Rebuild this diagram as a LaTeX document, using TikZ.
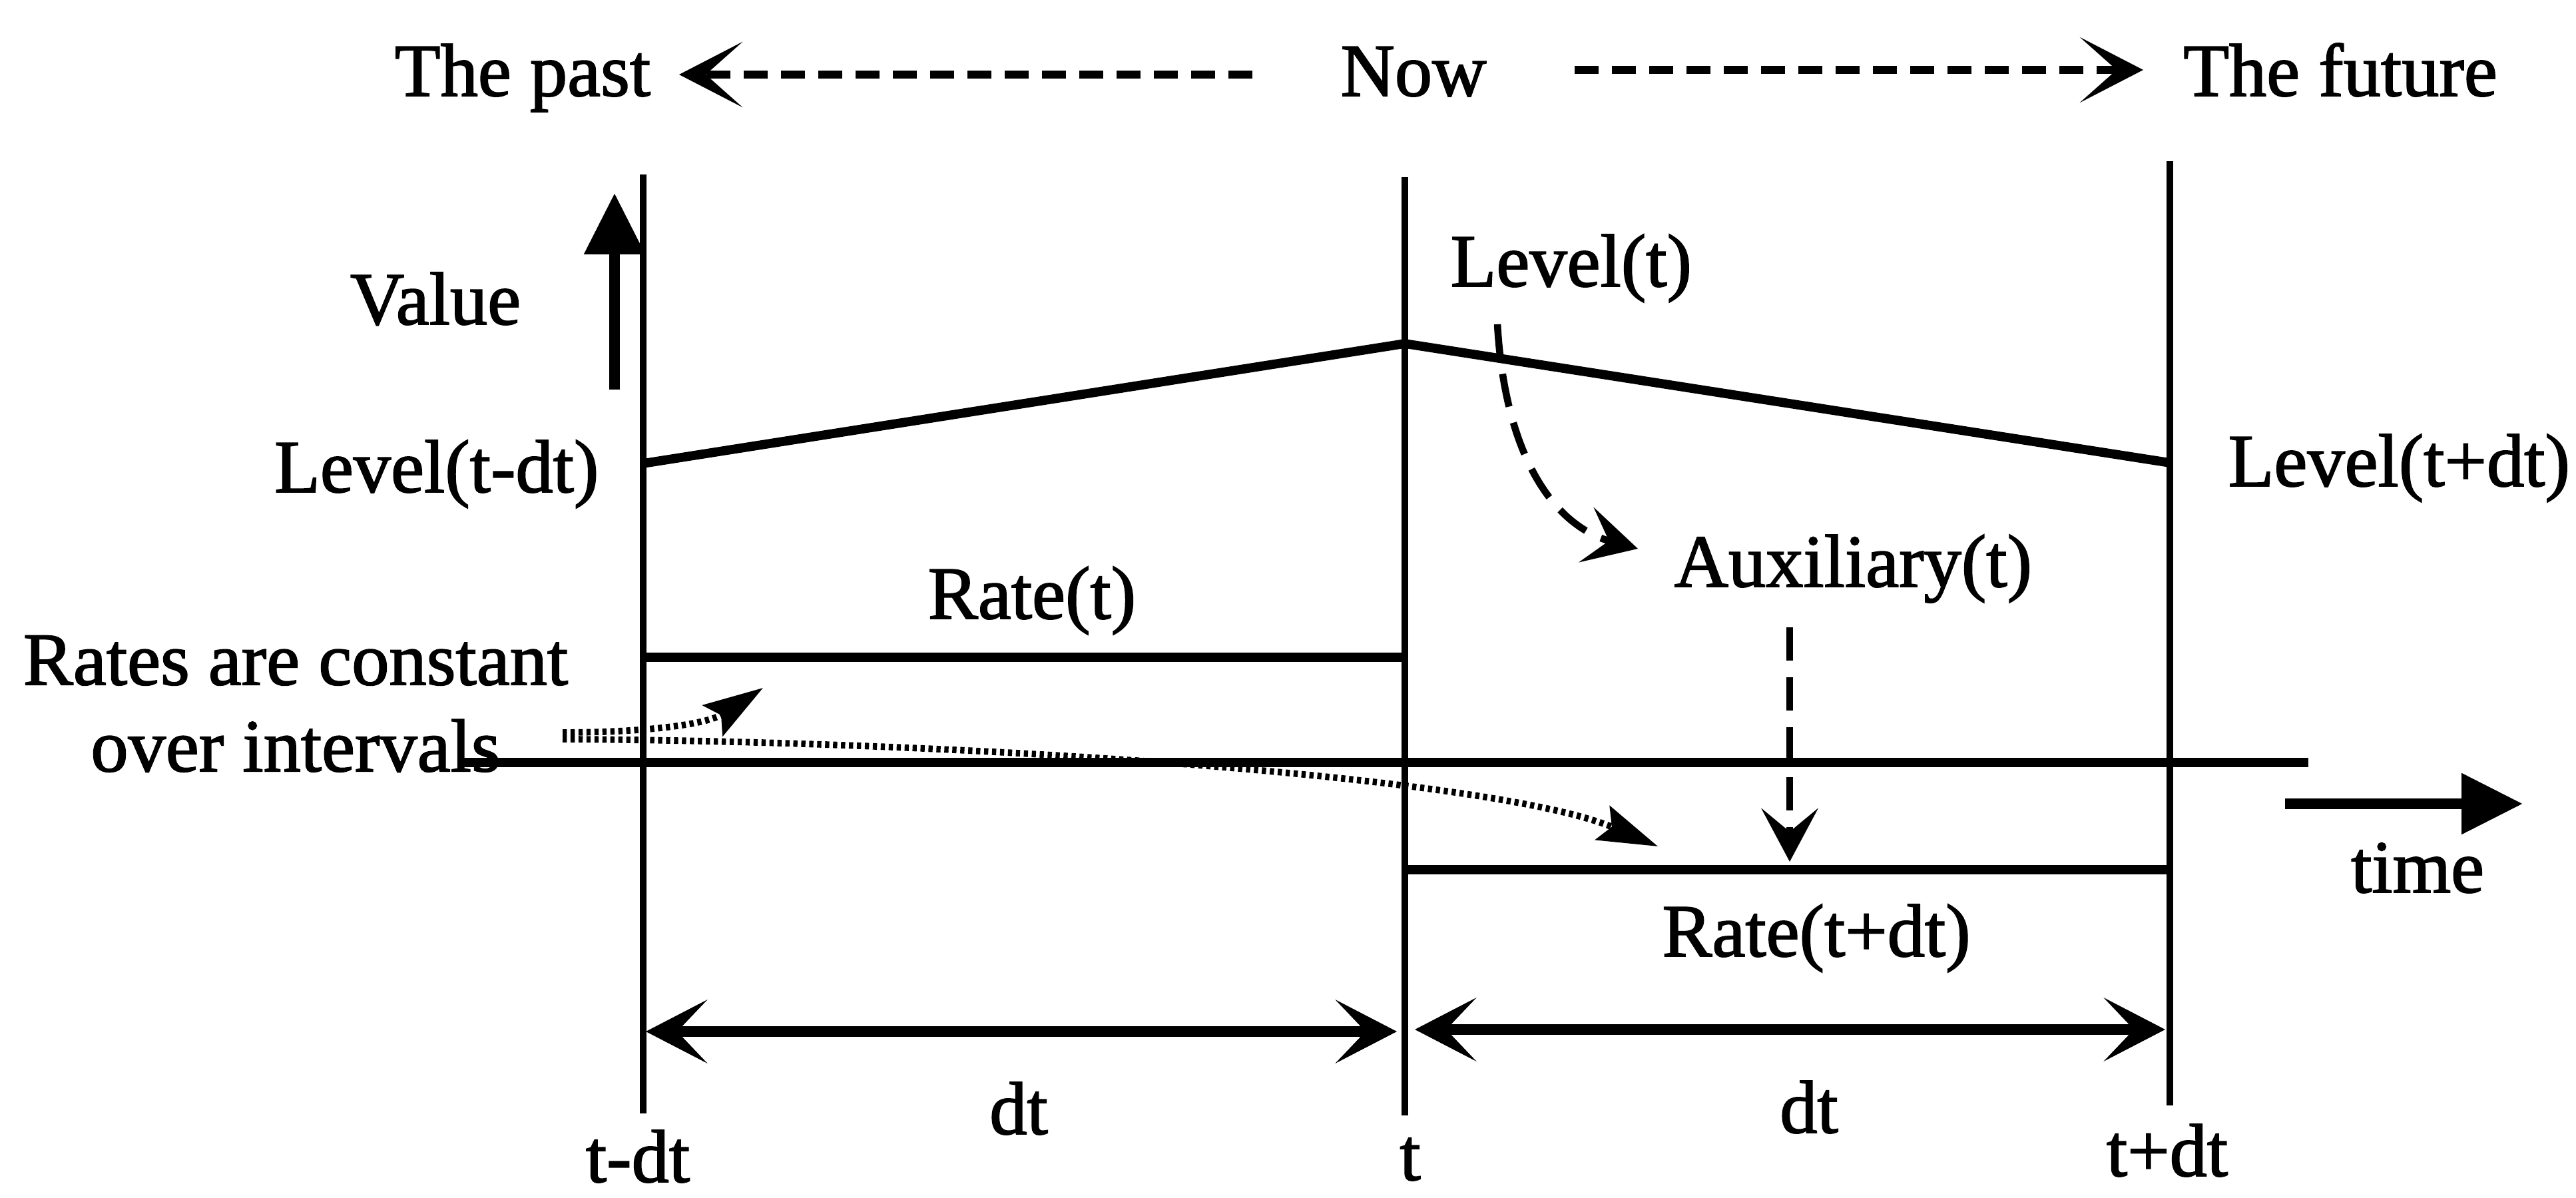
\documentclass[tikz,border=0pt]{standalone}
\usepackage{fontspec}
\setmainfont{Liberation Serif}[AutoFakeBold=1.6]
\usetikzlibrary{arrows.meta}

\begin{document}
\begin{tikzpicture}[x=1cm,y=1cm,
  lbl/.style={inner sep=0pt,font=\fontsize{32}{37}\selectfont\bfseries},
  tline/.style={line width=2.6pt},
  heavy/.style={line width=3.9pt},
  farrow/.style={line width=3.6pt,dash pattern=on 0.36cm off 0.2cm,-{Stealth[length=0.95cm,width=0.98cm,inset=0.55cm]}},
  dtarrow/.style={line width=4.5pt,{Stealth[length=0.92cm,width=0.95cm,inset=0.45cm]}-{Stealth[length=0.92cm,width=0.95cm,inset=0.45cm]}},
  bigarrow/.style={line width=4.5pt,-{Triangle[length=0.92cm,width=0.88cm]}},
  depends/.style={line width=3pt,dash pattern=on 0.5cm off 0.25cm,-{Stealth[length=0.8cm,width=0.85cm,inset=0.35cm]}},
  holds/.style={line width=2.8pt,dash pattern=on 1.8pt off 1.6pt,-{Stealth[length=0.9cm,width=0.55cm,inset=0.15cm]}}
]
\useasboundingbox (0,0) rectangle (38.69,17.99);

% top line: past, now, future
\node[lbl,anchor=base] (past) at (7.85,16.55) {The past};
\node[lbl,anchor=base] (now) at (21.23,16.55) {Now};
\node[lbl,anchor=base] (future) at (35.15,16.55) {The future};
\coordinate (pastTip) at (10.20,16.87);
\coordinate (nowL) at (18.81,16.87);
\coordinate (nowR) at (23.65,16.94);
\coordinate (futTip) at (32.19,16.94);
\draw[farrow] (nowL) -- (pastTip);
\draw[farrow] (nowR) -- (futTip);

% the three instants
\coordinate (lt) at (9.66,15.37);
\coordinate (lb) at (9.66,1.27);
\coordinate (mt) at (21.10,15.33);
\coordinate (mb) at (21.10,1.24);
\coordinate (rt) at (32.59,15.57);
\coordinate (rb) at (32.59,1.39);
\draw[tline] (lt) -- (lb);
\draw[tline] (mt) -- (mb);
\draw[tline] (rt) -- (rb);

% value axis
\node[lbl,anchor=base] (value) at (6.54,13.12) {Value};
\coordinate (valLo) at (9.23,12.14);
\coordinate (valHi) at (9.23,15.09);
\draw[bigarrow] (valLo) -- (valHi);

% level
\coordinate (lev0) at (9.66,11.03);
\coordinate (lev1) at (21.10,12.83);
\coordinate (lev2) at (32.59,11.04);
\draw[heavy] (lev0) -- (lev1) -- (lev2);
\node[lbl,anchor=base east] (levA) at (9.00,10.60) {Level(t-dt)};
\node[lbl,anchor=base west] (levB) at (21.78,13.69) {Level(t)};
\node[lbl,anchor=base west] (levC) at (33.46,10.69) {Level(t+dt)};

% rates
\coordinate (rA0) at (9.66,8.12);
\coordinate (rA1) at (21.10,8.12);
\coordinate (rB0) at (21.10,4.93);
\coordinate (rB1) at (32.59,4.93);
\draw[heavy] (rA0) -- (rA1);
\draw[heavy] (rB0) -- (rB1);
\node[lbl,anchor=base] (rateA) at (15.50,8.70) {Rate(t)};
\node[lbl,anchor=base] (rateB) at (27.28,3.63) {Rate(t+dt)};
\node[lbl,anchor=base west] (aux) at (25.14,9.18) {Auxiliary(t)};

% time axis
\coordinate (ax0) at (6.87,6.54);
\coordinate (ax1) at (34.67,6.54);
\draw[heavy] (ax0) -- (ax1);
\coordinate (tm0) at (34.32,5.92);
\coordinate (tm1) at (37.89,5.92);
\draw[bigarrow] (tm0) -- (tm1);
\node[lbl,anchor=base] (time) at (36.31,4.59) {time};

% dependencies
\coordinate (levDrop) at (22.49,13.12);
\coordinate (auxIn) at (24.60,9.75);
\draw[depends] (levDrop) .. controls (22.60,11.20) and (23.30,10.10) .. (auxIn);
\coordinate (auxDrop) at (26.88,8.57);
\coordinate (rateIn) at (26.88,5.05);
\draw[depends] (auxDrop) -- (rateIn);

% rates are constant
\node[lbl,align=center] (rates) at (4.44,7.42) {Rates are constant\\over intervals};
\coordinate (holdA) at (8.45,6.99);
\coordinate (holdB) at (8.45,6.89);
\coordinate (holdTipA) at (11.46,7.66);
\coordinate (holdTipB) at (24.90,5.28);
\draw[holds] (holdA) .. controls (9.60,6.99) and (10.60,7.10) .. (holdTipA);
\draw[holds] (holdB) .. controls (15.00,6.85) and (22.50,6.30) .. (holdTipB);

% intervals
\coordinate (dA0) at (9.70,2.50);
\coordinate (dA1) at (20.98,2.50);
\coordinate (dB0) at (21.25,2.53);
\coordinate (dB1) at (32.52,2.53);
\draw[dtarrow] (dA0) -- (dA1);
\draw[dtarrow] (dB0) -- (dB1);
\node[lbl,anchor=base] (dtA) at (15.30,0.96) {dt};
\node[lbl,anchor=base] (dtB) at (27.17,0.98) {dt};
\node[lbl,anchor=base] (tA) at (9.58,0.24) {t-dt};
\node[lbl,anchor=base] (tB) at (21.18,0.27) {t};
\node[lbl,anchor=base] (tC) at (32.55,0.33) {t+dt};
\end{tikzpicture}
\end{document}
